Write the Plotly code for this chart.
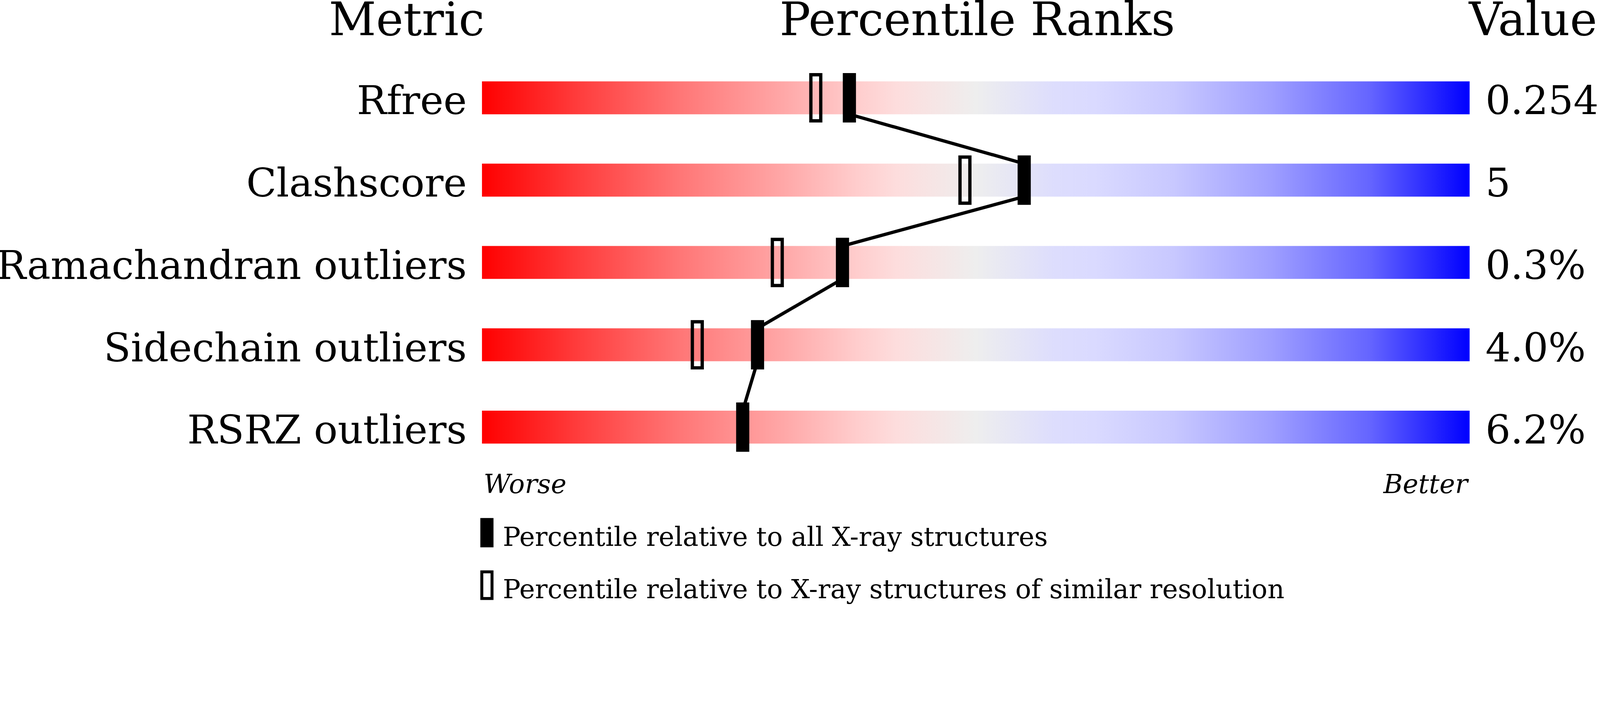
import plotly.graph_objects as go

# ---------------- data ----------------
metrics = ["Rfree", "Clashscore", "Ramachandran outliers", "Sidechain outliers", "RSRZ outliers"]
value_labels = ["0.254", "5", "0.3%", "4.0%", "6.2%"]
pct_all = [37.2, 54.9, 36.5, 27.9, 26.4]            # percentile vs all X-ray structures
pct_similar = [33.8, 48.9, 29.9, 21.8, None]        # percentile vs similar resolution
headers = ["Metric", "Percentile Ranks", "Value"]
scale_labels = ["Worse", "Better"]
legend_labels = ["Percentile relative to all X-ray structures",
                 "Percentile relative to X-ray structures of similar resolution"]

gradient = [
    [0.00, "rgb(255,0,0)"],
    [0.10, "rgb(255,62,62)"],
    [0.20, "rgb(255,118,118)"],
    [0.30, "rgb(255,165,165)"],
    [0.38, "rgb(255,205,205)"],
    [0.42, "rgb(253,221,221)"],
    [0.50, "rgb(238,238,238)"],
    [0.58, "rgb(221,221,253)"],
    [0.62, "rgb(218,218,255)"],
    [0.70, "rgb(200,200,255)"],
    [0.80, "rgb(158,158,255)"],
    [0.90, "rgb(100,100,255)"],
    [1.00, "rgb(0,0,255)"],
]

# ---------------- geometry ----------------
W, H = 4860, 1835
BAR_L, BAR_R = 1464, 4464
ROW0, ROW_STEP = 297, 250
PX_PER_PCT = (BAR_R - BAR_L) / 100.0
BAR_HALF = 50 / ROW_STEP
MK_HALF_H = 75 / ROW_STEP
MK_HALF_W = 20 / PX_PER_PCT
FONT = "DejaVu Serif"


def px(xp):
    return xp / W


def py(yp):
    return 1 - yp / H


def mid_from_baseline(baseline, fs):
    return py(baseline - 0.346 * fs)


fig = go.Figure()

# gradient bars
for i, m in enumerate(metrics):
    fig.add_trace(go.Scatter(
        x=[0, 100, 100, 0, 0],
        y=[i - BAR_HALF, i - BAR_HALF, i + BAR_HALF, i + BAR_HALF, i - BAR_HALF],
        mode="lines", fill="toself", line=dict(width=0),
        fillgradient=dict(type="horizontal", colorscale=gradient),
        hoverinfo="skip", showlegend=False,
    ))

# connecting line: from bottom of one bar to top of the next, at the percentile positions
lx, ly = [], []
for i, p in enumerate(pct_all):
    if i > 0:
        lx.append(p)
        ly.append(i - BAR_HALF)
    if i < len(pct_all) - 1:
        lx.append(p)
        ly.append(i + BAR_HALF)
fig.add_trace(go.Scatter(x=lx, y=ly, mode="lines", line=dict(color="black", width=10),
                         hoverinfo="skip", showlegend=False))

shapes = []
# open markers (similar resolution)
for i, p in enumerate(pct_similar):
    if p is None:
        continue
    sw = 10
    shapes.append(dict(type="rect", xref="x", yref="y",
                       x0=p - MK_HALF_W + (sw / 2) / PX_PER_PCT, x1=p + MK_HALF_W - (sw / 2) / PX_PER_PCT,
                       y0=i - MK_HALF_H + (sw / 2) / ROW_STEP, y1=i + MK_HALF_H - (sw / 2) / ROW_STEP,
                       line=dict(color="black", width=sw), fillcolor="rgba(0,0,0,0)", layer="above"))
# filled markers (all structures)
for i, p in enumerate(pct_all):
    shapes.append(dict(type="rect", xref="x", yref="y",
                       x0=p - MK_HALF_W, x1=p + MK_HALF_W,
                       y0=i - MK_HALF_H, y1=i + MK_HALF_H,
                       line=dict(width=0), fillcolor="black", layer="above"))

# legend swatches
shapes.append(dict(type="rect", xref="paper", yref="paper",
                   x0=px(1459), x1=px(1499), y0=py(1662), y1=py(1573),
                   line=dict(width=0), fillcolor="black"))
shapes.append(dict(type="rect", xref="paper", yref="paper",
                   x0=px(1459 + 4.5), x1=px(1499 - 4.5), y0=py(1822 - 4.5), y1=py(1732 + 4.5),
                   line=dict(color="black", width=9), fillcolor="rgba(0,0,0,0)"))

annotations = []
HFS = 140
annotations.append(dict(text=headers[0], x=px(BAR_L + 10), y=mid_from_baseline(107, HFS),
                        xanchor="right", yanchor="middle"))
annotations.append(dict(text=headers[1], x=px((BAR_L + BAR_R) / 2 + 4), y=mid_from_baseline(107, HFS),
                        xanchor="center", yanchor="middle"))
annotations.append(dict(text=headers[2], x=px(BAR_R - 6), y=mid_from_baseline(107, HFS),
                        xanchor="left", yanchor="middle"))
for a in annotations:
    a.update(xref="paper", yref="paper", showarrow=False, font=dict(family=FONT, size=HFS, color="black"))

LFS = 120
for i, (m, v) in enumerate(zip(metrics, value_labels)):
    base = ROW0 + i * ROW_STEP + 50
    annotations.append(dict(text=m, x=px(1420), y=mid_from_baseline(base, LFS), xref="paper", yref="paper",
                            xanchor="right", yanchor="middle", showarrow=False,
                            font=dict(family=FONT, size=LFS, color="black")))
    annotations.append(dict(text=v, x=px(4510), y=mid_from_baseline(base, LFS), xref="paper", yref="paper",
                            xanchor="left", yanchor="middle", showarrow=False,
                            font=dict(family=FONT, size=LFS, color="black")))

SFS = 80
annotations.append(dict(text="<i>%s</i>" % scale_labels[0], x=px(1467), y=mid_from_baseline(1497, SFS),
                        xref="paper", yref="paper", xanchor="left", yanchor="middle", showarrow=False,
                        font=dict(family=FONT, size=SFS, color="black")))
annotations.append(dict(text="<i>%s</i>" % scale_labels[1], x=px(4465), y=mid_from_baseline(1497, SFS),
                        xref="paper", yref="paper", xanchor="right", yanchor="middle", showarrow=False,
                        font=dict(family=FONT, size=SFS, color="black")))
for k, base in enumerate([1657, 1817]):
    annotations.append(dict(text=legend_labels[k], x=px(1525), y=mid_from_baseline(base, SFS),
                            xref="paper", yref="paper", xanchor="left", yanchor="middle", showarrow=False,
                            font=dict(family=FONT, size=SFS, color="black")))

fig.update_layout(
    width=W, height=H,
    margin=dict(l=0, r=0, t=0, b=0, pad=0),
    paper_bgcolor="white", plot_bgcolor="white",
    xaxis=dict(range=[-BAR_L / PX_PER_PCT, (W - BAR_L) / PX_PER_PCT], visible=False, fixedrange=True),
    yaxis=dict(range=[(H - ROW0) / ROW_STEP, -ROW0 / ROW_STEP], visible=False, fixedrange=True),
    shapes=shapes, annotations=annotations, showlegend=False,
)

post = """
document.documentElement.style.margin='0';
document.body.style.margin='0';
document.documentElement.style.overflow='hidden';
document.body.style.overflow='hidden';
var gd = document.getElementById('{plot_id}');
var s = window.innerWidth / %d;
if (s > 0 && Math.abs(s - 1) > 0.001) {
  gd.style.transformOrigin = '0 0';
  gd.style.transform = 'scale(' + s + ')';
  var wrap = gd.parentElement;
  wrap.style.width = (%d * s) + 'px';
  wrap.style.height = (%d * s) + 'px';
  wrap.style.overflow = 'hidden';
  document.body.style.height = (%d * s) + 'px';
}
""" % (W, W, H, H)

fig.write_html("out.html", config={"displayModeBar": False}, post_script=post)
